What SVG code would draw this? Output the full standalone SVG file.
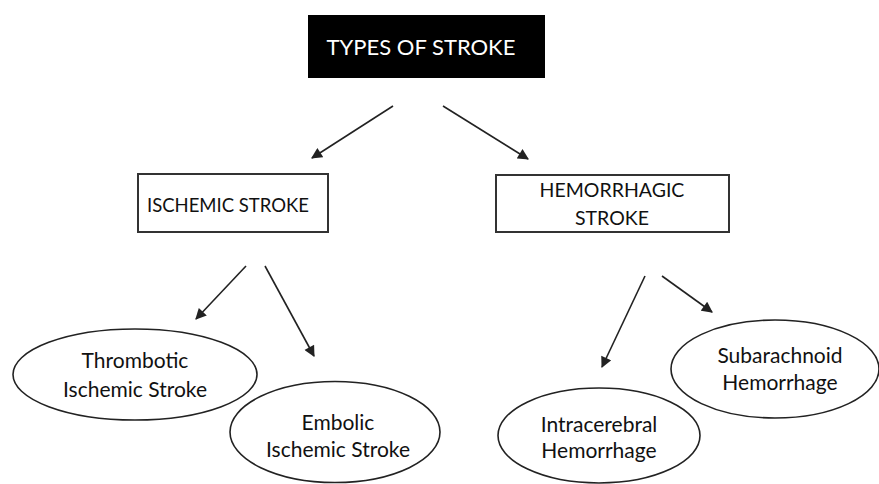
<svg xmlns="http://www.w3.org/2000/svg" width="879" height="484" viewBox="0 0 879 484">
<style>
  text { font-family: Lato, "Liberation Sans", sans-serif; fill: #111; text-anchor: middle; }
  .box { fill: #fff; stroke: #333; stroke-width: 2; }
  .ell { fill: #fff; stroke: #222; stroke-width: 1.6; }
  .conn line { stroke: #222; stroke-width: 1.6; marker-end: url(#arr); }
  .t1 { font-size: 21px; }
  .cap { font-size: 19.5px; }
  .title { font-size: 22px; fill: #fff; }
</style>
<defs>
  <marker id="arr" viewBox="0 0 10 10" refX="9" refY="5" markerWidth="12" markerHeight="11" markerUnits="userSpaceOnUse" orient="auto">
    <path d="M0,0 L10,5 L0,10 z" fill="#222"/>
  </marker>
</defs>
<rect width="879" height="484" fill="#fff"/>
<g id="types">
  <rect x="308" y="15" width="237" height="63" fill="#000"/>
  <text class="title" x="421" y="55">TYPES OF STROKE</text>
</g>
<g id="ischemic">
  <rect class="box" x="138" y="174" width="190" height="58"/>
  <text class="cap" x="228" y="212" style="font-size:18.5px">ISCHEMIC STROKE</text>
</g>
<g id="hemorrhagic">
  <rect class="box" x="496" y="175" width="233" height="57"/>
  <text class="cap" x="612" y="197">HEMORRHAGIC</text>
  <text class="cap" x="612" y="225">STROKE</text>
</g>
<g id="thrombotic">
  <ellipse class="ell" cx="135" cy="374.5" rx="122" ry="45.5"/>
  <text class="t1" x="135" y="368">Thrombotic</text>
  <text class="t1" x="135" y="397">Ischemic Stroke</text>
</g>
<g id="embolic">
  <ellipse class="ell" cx="335" cy="432" rx="105" ry="50.5"/>
  <text class="t1" x="338" y="430">Embolic</text>
  <text class="t1" x="338" y="457">Ischemic Stroke</text>
</g>
<g id="subarachnoid">
  <ellipse class="ell" cx="775" cy="369" rx="104" ry="49"/>
  <text class="t1" x="780" y="363">Subarachnoid</text>
  <text class="t1" x="780" y="390">Hemorrhage</text>
</g>
<g id="intracerebral">
  <ellipse class="ell" cx="599" cy="435.5" rx="101" ry="47.5"/>
  <text class="t1" x="599" y="432">Intracerebral</text>
  <text class="t1" x="599" y="458">Hemorrhage</text>
</g>
<g id="connectors" class="conn">
  <line x1="393" y1="106" x2="312" y2="158"/>
  <line x1="443" y1="106" x2="528" y2="159"/>
  <line x1="246" y1="266" x2="196" y2="319"/>
  <line x1="265" y1="266" x2="314" y2="356"/>
  <line x1="645" y1="276" x2="602" y2="367"/>
  <line x1="662" y1="276" x2="712" y2="312"/>
</g>
</svg>
